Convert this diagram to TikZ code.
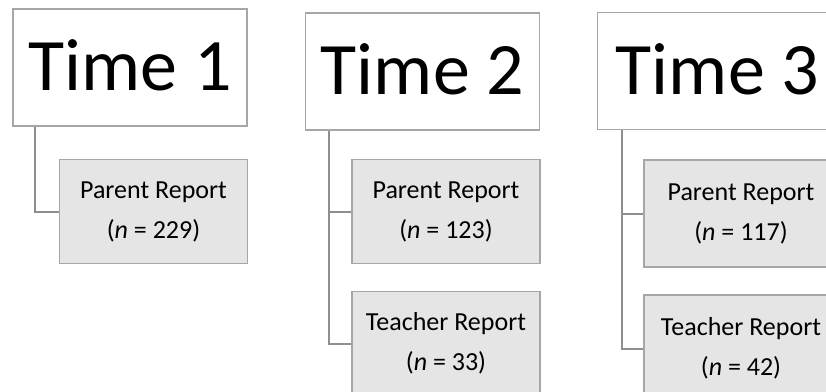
\documentclass[tikz,border=0pt]{standalone}
\usepackage{fontspec}
\setmainfont{Carlito}
\begin{document}
\begin{tikzpicture}[x=1pt,y=-1pt,
  timebox/.style={draw=boxgray, line width=1.8pt, fill=white, inner sep=0pt,
    minimum width=234pt, minimum height=117pt, text depth=4pt,
    font=\fontsize{74}{80}\selectfont},
  reportbox/.style={draw=boxgray, line width=1.8pt, fill=reportfill, inner sep=0pt,
    minimum width=188pt, minimum height=104pt, align=center,
    execute at begin node={\rule{0pt}{23pt}},
    font=\fontsize{26}{40}\selectfont},
  conn/.style={draw=conngray, line width=2pt}]
\definecolor{boxgray}{HTML}{A6A6A6}
\definecolor{conngray}{HTML}{8E8E8E}
\definecolor{reportfill}{HTML}{E5E5E5}
\useasboundingbox (0,0) rectangle (826,391);
\clip (0,0) rectangle (826,391);

% first wave
\node[timebox] (t1) at (130,67.5) {Time 1};
\node[reportbox] (p1) at (153.5,211.5) {Parent Report\\(\textit{n} = 229)};
\draw[conn] ([xshift=23pt]t1.south west) |- (p1.west);

% second wave
\node[timebox] (t2) at (422.5,71.5) {Time 2};
\node[reportbox] (p2) at (446,211.5) {Parent Report\\(\textit{n} = 123)};
\node[reportbox] (r2) at (446,343.5) {Teacher Report\\(\textit{n} = 33)};
\draw[conn] ([xshift=24pt]t2.south west) |- (p2.west);
\draw[conn] ([xshift=24pt]t2.south west) |- (r2.west);

% third wave
\node[timebox, minimum width=240pt] (t3) at (717.5,71) {Time 3};
\node[reportbox, minimum width=194pt, minimum height=107pt] (p3) at (741,213.5) {Parent Report\\(\textit{n} = 117)};
\node[reportbox, minimum width=194pt, minimum height=107pt] (r3) at (741,348.5) {Teacher Report\\(\textit{n} = 42)};
\draw[conn] ([xshift=25pt]t3.south west) |- (p3.west);
\draw[conn] ([xshift=25pt]t3.south west) |- (r3.west);
\end{tikzpicture}
\end{document}
